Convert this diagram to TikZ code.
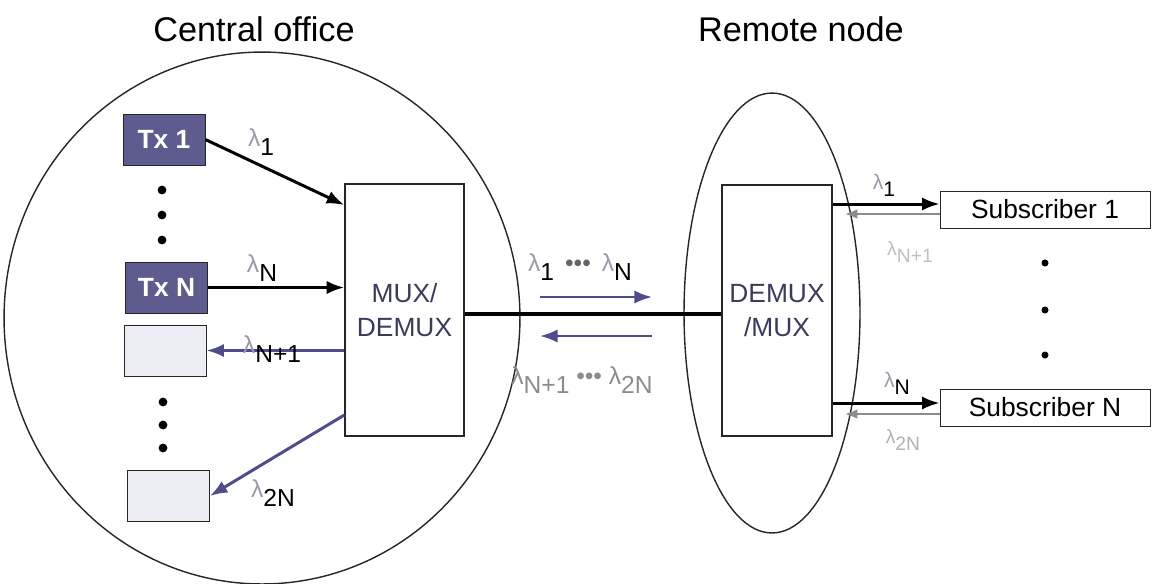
\documentclass[tikz,border=0pt]{standalone}
\usepackage{fontspec}
\setmainfont{Liberation Sans}
\usetikzlibrary{arrows.meta,shapes.geometric}
\definecolor{txfill}{HTML}{5E5C8E}
\definecolor{rxfill}{HTML}{EDEDF5}
\definecolor{blu}{HTML}{4E4C8A}
\definecolor{lam}{HTML}{9A9AA8}
\definecolor{boxtxt}{HTML}{3A3A5A}
\begin{document}
\begin{tikzpicture}[x=0.02cm,y=-0.02cm,
  title/.style={font=\fontsize{19.5}{22}\selectfont, inner sep=0pt},
  txbox/.style={draw=black!85, fill=txfill, minimum width=1.64cm, minimum height=1.02cm, inner sep=0pt, text=white, font=\fontsize{15}{17}\selectfont\bfseries},
  rxbox/.style={draw=black!85, fill=rxfill, minimum width=1.64cm, minimum height=1.02cm, inner sep=0pt},
  bigbox/.style={draw=black!85, thick, inner sep=0pt, text=boxtxt, font=\fontsize{15}{19}\selectfont, align=center},
  subbox/.style={draw=black!85, minimum width=4.2cm, minimum height=0.74cm, inner sep=0pt, font=\fontsize{15}{17}\selectfont},
  darr/.style={black, line width=1.7pt, -{Latex[length=10pt,width=7.5pt]}},
  barr/.style={blu, line width=1.7pt, -{Latex[length=10pt,width=7.5pt]}},
  garr/.style={black!45, line width=1.1pt, -{Latex[length=7pt,width=5.5pt]}},
  lbl/.style={inner sep=0pt, font=\fontsize{14}{16}\selectfont},
  dot/.style={circle, fill=black, inner sep=0pt, minimum size=5pt}
]
\useasboundingbox (0,0) rectangle (1152,583);
% titles
\node[title] (t1) at (254,29) {Central office};
\node[title] (t2) at (801,29) {Remote node};
% ellipses
\draw[black!85, line width=0.8pt] (262,318) ellipse [x radius=5.16cm, y radius=5.32cm];
\draw[black!85, line width=0.8pt] (772,313) ellipse [x radius=1.76cm, y radius=4.4cm];
% boxes
\node[txbox] (tx1) at (164,139.5) {Tx 1};
\node[txbox] (txn) at (166.5,287.5) {Tx N};
\node[rxbox] (rx1) at (165,350.5) {};
\node[rxbox] (rxn) at (168.5,496) {};
\node[bigbox, minimum width=2.38cm, minimum height=5.04cm] (mux) at (404.5,310) {MUX/\\DEMUX};
\node[bigbox, minimum width=2.2cm, minimum height=5.02cm] (demux) at (777,310.5) {DEMUX\\/MUX};
\node[subbox] (s1) at (1045,209.5) {Subscriber 1};
\node[subbox] (sn) at (1045,407.5) {Subscriber N};
% dots
\node[dot] (d1) at (162,190) {};
\node[dot] (d2) at (162,215) {};
\node[dot] (d3) at (162,240) {};
\node[dot] (d4) at (163,402) {};
\node[dot] (d5) at (163,425) {};
\node[dot] (d6) at (163,448) {};
\node[dot, minimum size=4pt] (d7) at (1045,263) {};
\node[dot, minimum size=4pt] (d8) at (1045,310) {};
\node[dot, minimum size=4pt] (d9) at (1045,355) {};
% coordinates
\coordinate (m1) at (mux.west |- 0,205);
\coordinate (m2) at (mux.west |- txn.east);
\coordinate (m3) at (mux.west |- rx1.east);
\coordinate (m4) at (mux.west |- 0,415);
\coordinate (ma) at (540,297);
\coordinate (mb) at (652,297);
\coordinate (mc) at (652,336);
\coordinate (md) at (540,336);
\coordinate (e1) at (demux.east |- 0,204);
\coordinate (e2) at (845,214);
\coordinate (e3) at (demux.east |- 0,403);
\coordinate (e4) at (845,414);
% arrows
\draw[darr] (tx1.east) -- (m1);
\draw[darr] (txn.east) -- (m2);
\draw[barr] (m3) -- (rx1.east);
\draw[barr] (m4) -- (rxn.east);
\draw[black, line width=2.4pt] (mux.east |- 0,314) -- (demux.west |- 0,314);
\draw[barr, line width=1.4pt] (ma) -- (mb);
\draw[barr, line width=1.4pt] (mc) -- (md);
\draw[darr] (e1) -- (s1.west |- e1);
\draw[garr] (s1.west |- e2) -- (e2);
\draw[darr] (e3) -- (sn.west |- e3);
\draw[garr] (sn.west |- e4) -- (e4);
% labels
\node[lbl] (l1) at (261,142) {{\color{lam}λ}\raisebox{-5pt}{1}};
\node[lbl] (l2) at (262,268) {{\color{lam}λ}\raisebox{-5pt}{N}};
\node[lbl] (l3) at (272,349) {{\color{lam}λ}\raisebox{-5pt}{N+1}};
\node[lbl] (l4) at (273,493) {{\color{lam}λ}\raisebox{-5pt}{2N}};
\node[lbl] (l5) at (580,267) {{\color{lam}λ}\raisebox{-5pt}{1}\, {\color{black!60}•••}\, {\color{lam}λ}\raisebox{-5pt}{N}};
\node[lbl, text=black!45] (l6) at (582,380) {λ\raisebox{-5pt}{N+1} ••• λ\raisebox{-5pt}{2N}};
\node[lbl, font=\fontsize{12}{14}\selectfont] (l7) at (884,185) {{\color{lam}λ}\raisebox{-4pt}{1}};
\node[lbl, font=\fontsize{11}{13}\selectfont, text=black!25] (l8) at (910,252) {λ\raisebox{-4pt}{N+1}};
\node[lbl, font=\fontsize{12}{14}\selectfont] (l9) at (897,383) {{\color{lam}λ}\raisebox{-4pt}{N}};
\node[lbl, font=\fontsize{11}{13}\selectfont, text=black!30] (l10) at (903,440) {λ\raisebox{-4pt}{2N}};
\end{tikzpicture}
\end{document}
